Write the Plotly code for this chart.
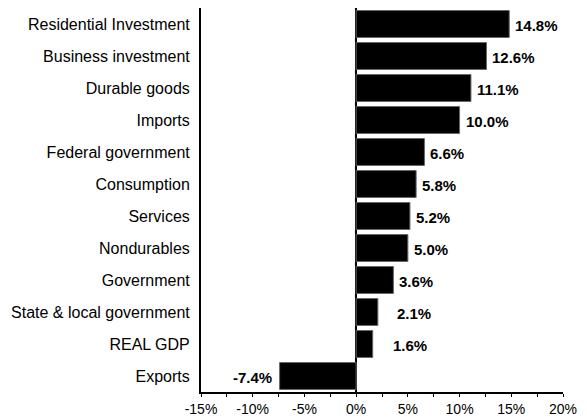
import plotly.graph_objects as go

# Contribution data, top to bottom
categories = [
    "Residential Investment", "Business investment", "Durable goods", "Imports",
    "Federal government", "Consumption", "Services", "Nondurables",
    "Government", "State & local government", "REAL GDP", "Exports",
]
values = [14.8, 12.6, 11.1, 10.0, 6.6, 5.8, 5.2, 5.0, 3.6, 2.1, 1.6, -7.4]

# Horizontal gap (px) between each bar end and its value label
label_gap = [4, 4, 4, 4, 4, 4, 4, 4, 4, 17, 18, 6]

x_ticks = [-15, -10, -5, 0, 5, 10, 15, 20]

FONT = "Liberation Sans, Arial, sans-serif"

fig = go.Figure(
    go.Bar(
        x=values,
        y=categories,
        orientation="h",
        marker=dict(color="black", line=dict(color="#666666", width=1)),
        hoverinfo="skip",
    )
)

for cat, val, gap in zip(categories, values, label_gap):
    fig.add_annotation(
        x=val, y=cat, xref="x", yref="y",
        text=f"{val:.1f}%",
        showarrow=False,
        xanchor="left" if val >= 0 else "right",
        xshift=gap if val >= 0 else -gap,
        yshift=-1,
        font=dict(family=FONT, size=15, color="black", weight="bold"),
    )

fig.update_layout(
    width=587, height=418,
    margin=dict(l=201, r=24, t=8, b=26),
    paper_bgcolor="white", plot_bgcolor="white",
    bargap=0.16,
    showlegend=False,
    font=dict(family=FONT, size=15, color="black"),
)

fig.update_xaxes(
    range=[-15, 20],
    tickvals=x_ticks,
    ticktext=[f"{t}%" for t in x_ticks],
    ticks="outside", ticklen=3, tickcolor="black", tickwidth=1,
    minor=dict(dtick=2.5, tick0=0, ticks="outside", ticklen=3,
               tickcolor="black", tickwidth=1),
    automargin=False,
    showgrid=False,
    showline=True, linecolor="black", linewidth=1.5,
    zeroline=True, zerolinecolor="black", zerolinewidth=2,
    tickfont=dict(family=FONT, size=14, color="black"),
    fixedrange=True,
)

fig.update_yaxes(
    categoryorder="array",
    categoryarray=categories[::-1],
    automargin=False,
    showgrid=False,
    showline=True, linecolor="black", linewidth=2,
    ticks="", ticklabelstandoff=6,
    tickfont=dict(family=FONT, size=16, color="black"),
    fixedrange=True,
)

fig.write_html("out.html")
